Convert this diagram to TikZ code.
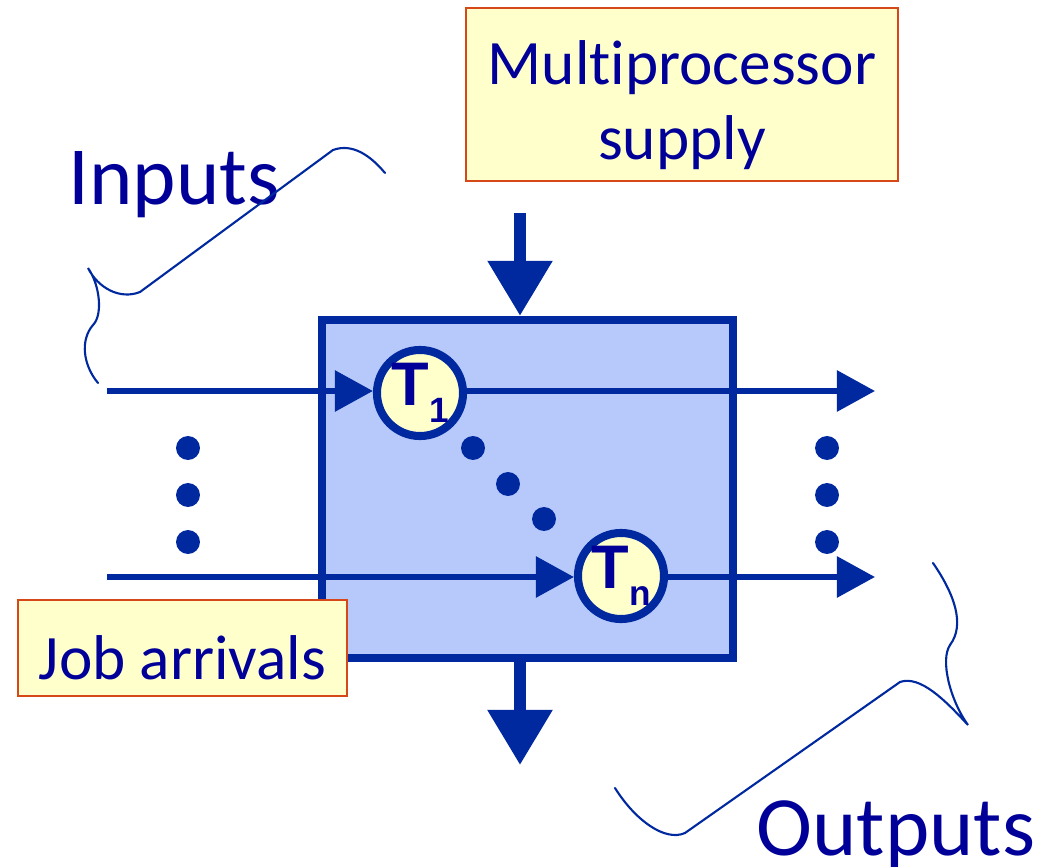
\documentclass[tikz,border=0pt]{standalone}
\usepackage{fontspec}
\setmainfont{Carlito}[Ligatures=NoCommon]
\newfontfamily\taskfont{Liberation Sans}
\usetikzlibrary{arrows.meta,positioning}
\definecolor{sys-blue}{RGB}{0,41,160}
\definecolor{sys-navy}{RGB}{0,0,153}
\definecolor{sys-fill}{RGB}{183,201,250}
\definecolor{note-yellow}{RGB}{255,255,204}
\definecolor{note-red}{RGB}{214,72,24}
\tikzset{>={Triangle[width=4mm,length=3.8mm]}}
\newcommand{\tasklabel}[1]{\taskfont\bfseries\fontsize{17.5}{17.5}\selectfont T\raisebox{-5pt}{\fontsize{10}{10}\selectfont #1}}

\begin{document}
\begin{tikzpicture}[x=0.01cm,y=-0.01cm,
    note/.style={draw=note-red,fill=note-yellow,text=sys-navy,line width=0.7pt,inner sep=0pt},
    task/.style={circle,draw=sys-blue,fill=note-yellow,line width=2.3pt,minimum size=0.86cm,inner sep=0pt,text=sys-navy},
    flow/.style={->,draw=sys-blue,line width=1.7pt},
    feedflow/.style={-{Triangle[width=6.2mm,length=5.5mm]},draw=sys-blue,line width=3.4pt},
    brace/.style={draw=sys-blue,line width=0.6pt,line cap=round}]
    \useasboundingbox (0,0) rectangle (1048,867);

    % the system
    \node (box) [draw=sys-blue,fill=sys-fill,line width=2.3pt,minimum width=4.11cm,minimum height=3.38cm] at (527.5,489) {};

    \node (T1) [task] at (420,393) {\tasklabel{1}};
    \node (Tn) [task] at (621,576) {\tasklabel{n}};

    \coordinate (in1) at (107,391);
    \coordinate (in2) at (107,577);
    \coordinate (out1) at (875,391);
    \coordinate (out2) at (875,577);
    \draw [flow] (in1) -- (in1 -| T1.west);
    \draw [flow] (out1 -| T1.east) -- (out1);
    \draw [flow] (in2) -- (in2 -| Tn.west);
    \draw [flow] (out2 -| Tn.east) -- (out2);

    % supply in, finished jobs out
    \coordinate (feed) at (520,213);
    \coordinate (drain) at (520,765);
    \draw [feedflow] (feed) -- (feed |- box.north);
    \draw [feedflow] (feed |- box.south) -- (drain);

    % dots
    \fill[sys-blue] (188,448) circle (3.4pt);
    \fill[sys-blue] (188,495) circle (3.4pt);
    \fill[sys-blue] (188,542) circle (3.4pt);
    \fill[sys-blue] (827,448) circle (3.4pt);
    \fill[sys-blue] (827,495) circle (3.4pt);
    \fill[sys-blue] (827,542) circle (3.4pt);
    \fill[sys-blue] (473,448) circle (3.4pt);
    \fill[sys-blue] (508,484) circle (3.4pt);
    \fill[sys-blue] (544,519) circle (3.4pt);

    \node (supply) [note,minimum width=4.32cm,minimum height=1.73cm,align=center,
        font=\fontsize{18}{21.3}\selectfont] at (682,94.5) {\rule{0pt}{18.5pt}Multiprocessor\\supply};
    \node (jobs) [note,minimum width=3.29cm,minimum height=0.96cm,
        font=\fontsize{18}{22}\selectfont] at (182.5,648) {\rule{0pt}{18pt}Job arrivals};

    \node (inputs) [anchor=base west,inner sep=0pt,text=sys-navy,font=\fontsize{23.5}{28}\selectfont] at (68,205) {Inputs};
    \node (outputs) [anchor=base west,inner sep=0pt,text=sys-navy,font=\fontsize{24}{28}\selectfont] at (756,855) {Outputs};

    % braces
    \draw [brace] (385,173) .. controls (370,155) and (352,143) .. (333,150) -- (140,292)
        .. controls (120,300) and (98,288) .. (88,268)
        .. controls (100,285) and (103,315) .. (93,325)
        .. controls (80,340) and (83,365) .. (98,383);
    \draw [brace] (933,563) .. controls (955,595) and (965,625) .. (950,645)
        .. controls (940,660) and (950,700) .. (968,725)
        .. controls (945,700) and (920,675) .. (900,682) -- (685,833)
        .. controls (665,842) and (635,820) .. (615,788);
\end{tikzpicture}
\end{document}
